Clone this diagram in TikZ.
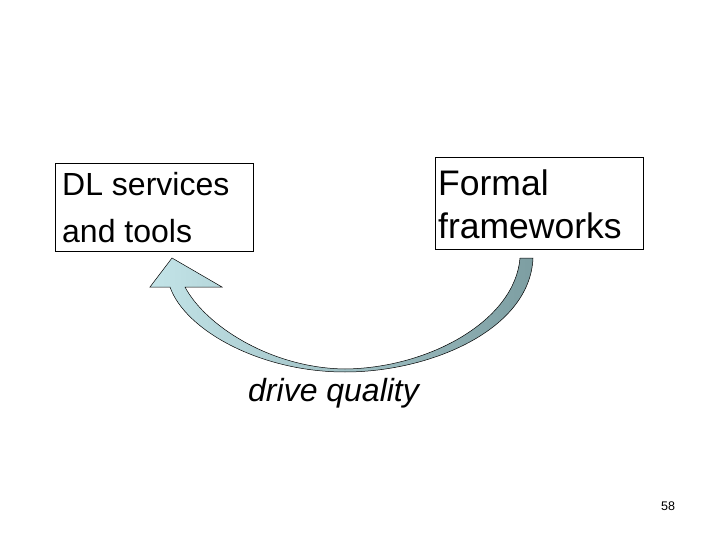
\documentclass[tikz,border=0pt]{standalone}
\usepackage{fontspec}
\setmainfont{Liberation Sans}
\begin{document}
\begin{tikzpicture}[x=1pt,y=-1pt,
  box/.style={draw, line width=0.6pt},
  txt/.style={anchor=base west, inner sep=0pt}]
\useasboundingbox (0,0) rectangle (720,540);
\node[box, minimum width=198pt, minimum height=88pt, anchor=north west] (dl) at (55,163) {};
\node[box, minimum width=208pt, minimum height=92pt, anchor=north west] (ff) at (435,157) {};
\node[txt, font=\fontsize{32}{32}\selectfont] (dl1) at (62,196) {DL services};
\node[txt, font=\fontsize{32}{32}\selectfont] (dl2) at (62,242) {and tools};
\node[txt, font=\fontsize{35.5}{35}\selectfont] (ff1) at (438,196) {Formal};
\node[txt, font=\fontsize{35.5}{35}\selectfont] (ff2) at (438,238) {frameworks};
% curved block arrow
\draw[line width=0.5pt, left color={rgb,255:red,195;green,228;blue,232}, right color={rgb,255:red,125;green,158;blue,162}]
  (520,258) -- (533,258)
  .. controls (530,330) and (430,372) .. (345,372)
  .. controls (260,372) and (185,330) .. (170,287)
  -- (150,287) -- (172,258) -- (222,287) -- (185,287)
  .. controls (205,325) and (270,368) .. (345,369)
  .. controls (430,368) and (515,320) .. (520,258) -- cycle;
\node[txt, font=\fontsize{32}{32}\selectfont\itshape] (dq) at (248,401) {drive quality};
\node[txt, font=\fontsize{12.5}{12}\selectfont] (pg) at (661,510) {58};
\end{tikzpicture}
\end{document}
